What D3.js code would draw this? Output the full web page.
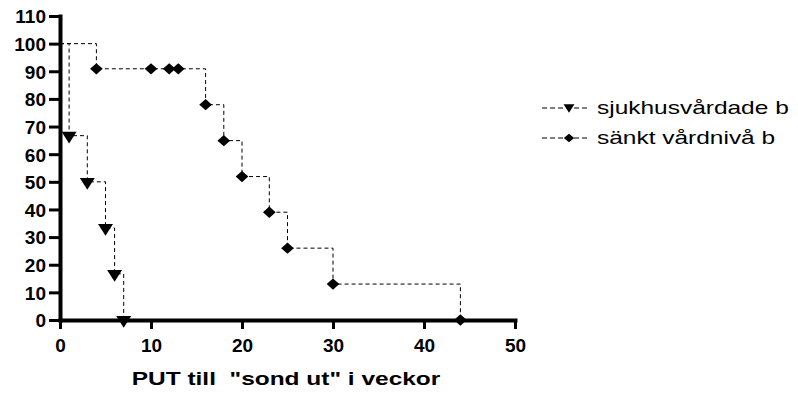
<!DOCTYPE html>
<html>
<head>
<meta charset="utf-8">
<script src="https://cdn.jsdelivr.net/npm/d3@7"></script>
<style>
  body { margin: 0; background: #fff; }
  svg { display: block; }
  .axis text { font-family: "Liberation Sans", Arial, sans-serif; font-weight: bold; font-size: 19px; fill: #000; }
</style>
</head>
<body>
<div id="chart"></div>
<script>
var WIDTH = 798, HEIGHT = 394;
var STRETCH = 1.36; // title and legend text are drawn wider than normal

// series 1: sjukhusvårdade b (weeks, % remaining)
var weeks1 = [0, 1, 3, 5, 6, 7];
var surv1 = [100, 66.7, 50, 33.3, 16.7, 0];
// series 2: sänkt vårdnivå b
var weeks2 = [0, 4, 10, 12, 13, 16, 18, 20, 23, 25, 30, 44];
var surv2 = [100, 90.9, 90.9, 90.9, 90.9, 77.9, 64.9, 51.9, 39.0, 26.0, 13.0, 0];

var seriesNames = ['sjukhusvårdade b', 'sänkt vårdnivå b'];
var xTicks = [0, 10, 20, 30, 40, 50];
var yTicks = [0, 10, 20, 30, 40, 50, 60, 70, 80, 90, 100, 110];
var xTitle = 'PUT till  "sond ut" i veckor';

var svg = d3.select('#chart').append('svg').attr('width', WIDTH).attr('height', HEIGHT);

var x = d3.scaleLinear().domain([0, 50]).range([60, 515]);
var y = d3.scaleLinear().domain([0, 110]).range([320, 16]);

function triPath(size) {
  return d3.symbol().type(d3.symbolTriangle).size(size)();
}
function diaPath(size) {
  return d3.symbol().type(d3.symbolSquare).size(size)();
}

function makeData(w, s) {
  return w.map(function (d, i) { return { t: d, s: s[i] }; });
}
var data1 = makeData(weeks1, surv1);
var data2 = makeData(weeks2, surv2);

var stepLine = d3.line()
  .x(function (d) { return x(d.t); })
  .y(function (d) { return y(d.s); })
  .curve(d3.curveStepAfter);

[data1, data2].forEach(function (d) {
  svg.append('path')
    .attr('d', stepLine(d))
    .attr('fill', 'none')
    .attr('stroke', '#000')
    .attr('stroke-width', 1)
    .attr('stroke-dasharray', '4,3');
});

// markers (skip the starting point at 100)
svg.selectAll('.tri')
  .data(data1.slice(1))
  .enter().append('path')
  .attr('class', 'tri')
  .attr('d', triPath(80))
  .attr('transform', function (d) { return 'translate(' + x(d.t) + ',' + y(d.s) + ') scale(1.1,1) rotate(180)'; })
  .attr('fill', '#000');

svg.selectAll('.dia')
  .data(data2.slice(1))
  .enter().append('path')
  .attr('class', 'dia')
  .attr('d', diaPath(64))
  .attr('transform', function (d) { return 'translate(' + x(d.t) + ',' + y(d.s) + ') scale(1.12,1) rotate(45)'; })
  .attr('fill', '#000');

// axes
var xAxis = svg.append('g')
  .attr('class', 'axis')
  .attr('transform', 'translate(0,' + y(0) + ')')
  .call(d3.axisBottom(x).tickValues(xTicks).tickSize(9).tickSizeOuter(0).tickPadding(10));
var yAxis = svg.append('g')
  .attr('class', 'axis')
  .attr('transform', 'translate(' + x(0) + ',0)')
  .call(d3.axisLeft(y).tickValues(yTicks).tickSize(11).tickSizeOuter(0).tickPadding(3));

[xAxis, yAxis].forEach(function (g) {
  g.select('.domain').attr('stroke', '#000').attr('stroke-width', 4).attr('stroke-linecap', 'square');
  g.selectAll('.tick line').attr('stroke', '#000').attr('stroke-width', 3);
});
yAxis.selectAll('.tick text').attr('dy', '0.36em');

svg.append('text')
  .attr('transform', 'translate(286,385) scale(' + STRETCH + ',1)')
  .attr('text-anchor', 'middle')
  .attr('xml:space', 'preserve')
  .style('font-family', '"Liberation Sans", Arial, sans-serif')
  .style('font-weight', 'bold')
  .style('font-size', '18px')
  .style('white-space', 'pre')
  .text(xTitle);

// legend
var legend = svg.append('g').attr('transform', 'translate(542,108)');
seriesNames.forEach(function (name, i) {
  var g = legend.append('g').attr('transform', 'translate(0,' + (i * 30) + ')');
  g.append('line')
    .attr('x1', 0).attr('x2', 48).attr('y1', 0).attr('y2', 0)
    .attr('stroke', '#000').attr('stroke-width', 1).attr('stroke-dasharray', '5,3');
  if (i === 0) {
    g.append('path').attr('d', triPath(42)).attr('transform', 'translate(27,-1) scale(1.1,1) rotate(180)').attr('fill', '#000');
  } else {
    g.append('path').attr('d', diaPath(38)).attr('transform', 'translate(27,0) scale(1.2,0.95) rotate(45)').attr('fill', '#000');
  }
  g.append('text')
    .attr('transform', 'translate(55,0) scale(' + STRETCH + ',1)')
    .attr('dy', '0.35em')
    .style('font-family', '"Liberation Sans", Arial, sans-serif')
    .style('font-size', '18px')
    .text(name);
});
</script>
</body>
</html>
